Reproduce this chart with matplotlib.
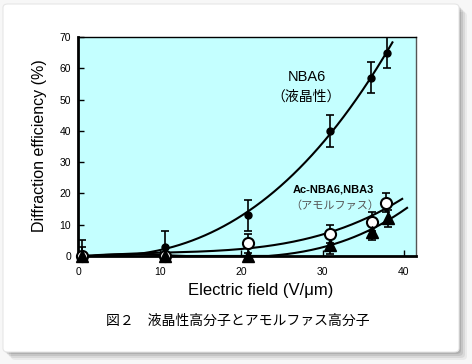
import numpy as np
import matplotlib
matplotlib.use("Agg")
import matplotlib.pyplot as plt
from matplotlib.patches import FancyBboxPatch

plt.rcParams['font.family'] = ['Liberation Sans', 'Noto Sans CJK JP', 'DejaVu Sans']

## Data
field_lc = [0.4, 10.6, 20.8, 30.9, 36.0, 37.9]       # NBA6 (liquid crystal)
eff_lc = [0.0, 3.0, 13.0, 40.0, 57.0, 65.0]
err_lc = [5.0, 5.0, 5.0, 5.0, 5.0, 5.0]

field_am1 = [0.4, 10.6, 20.8, 30.9, 36.1, 37.8]      # Ac-NBA6 (open circles)
eff_am1 = [0.0, 0.0, 4.0, 7.0, 11.0, 17.0]
err_am1 = [3.0, 0.0, 3.0, 3.0, 3.0, 3.0]

field_am2 = [0.4, 10.6, 20.8, 30.9, 36.1, 38.0]      # NBA3 (triangles)
eff_am2 = [0.0, 0.0, 0.0, 3.5, 7.8, 12.0]
err_am2 = [0.0, 0.0, 0.0, 3.0, 2.7, 2.7]

curve_end = [38.6, 39.8, 40.4]
xticks = [0, 10, 20, 30, 40]
yticks = [0, 10, 20, 30, 40, 50, 60, 70]

fig = plt.figure(figsize=(4.72, 3.64), dpi=100)
fig.patch.set_facecolor('#f7f7f7')

# card with soft shadow
for i, a in enumerate([0.05, 0.07, 0.09, 0.11]):
    off = 8 - i * 2
    fig.patches.append(FancyBboxPatch(
        ((3 + off) / 472, 1 - (352 + off) / 364), 456 / 472, 348 / 364,
        boxstyle='round,pad=0,rounding_size=0.01', transform=fig.transFigure,
        facecolor='black', edgecolor='none', alpha=a, zorder=0))
fig.patches.append(FancyBboxPatch(
    (3 / 472, 1 - 352 / 364), 456 / 472, 348 / 364,
    boxstyle='round,pad=0,rounding_size=0.01', transform=fig.transFigure,
    facecolor='white', edgecolor='#e6e6e6', lw=0.8, zorder=1))

ax = fig.add_axes([78 / 472, 1 - 256 / 364, 338 / 472, 219 / 364])
ax.set_zorder(2)
ax.set_facecolor('#c4ffff')

# fitted trend curves
for xs, ys, xend in [(field_lc, eff_lc, curve_end[0]),
                     (field_am1, eff_am1, curve_end[1]),
                     (field_am2, eff_am2, curve_end[2])]:
    coef = np.polyfit(xs, ys, 3)
    xx = np.linspace(0, xend, 200)
    yy = np.clip(np.polyval(coef, xx), 0, None)
    ax.plot(xx, yy, color='black', lw=1.5, zorder=3)

# error bars (clipped at the axes), markers drawn on top unclipped
eb = dict(fmt='none', ecolor='black', capsize=3, elinewidth=1.2, capthick=1.2)
ax.errorbar(field_lc, eff_lc, yerr=err_lc, zorder=4, **eb)
ax.errorbar(field_am1, eff_am1, yerr=err_am1, zorder=5, **eb)
ax.errorbar(field_am2, eff_am2, yerr=err_am2, zorder=6, **eb)

ax.plot(field_lc, eff_lc, 'o', color='black', ms=5, zorder=7, clip_on=False)
ax.plot(field_am1, eff_am1, 'o', mfc='white', mec='black', mew=1.5, ms=8,
        zorder=8, clip_on=False)
ax.plot(field_am2, eff_am2, '^', color='black', ms=8, zorder=9, clip_on=False)

ax.set_xlim(-0.1, 41.5)
ax.set_ylim(0, 70)
ax.set_xticks(xticks)
ax.set_yticks(yticks)
ax.tick_params(direction='in', length=4, width=1, labelsize=7.5)
ax.tick_params(axis='x', pad=8)
ax.tick_params(axis='y', pad=5)
for s in ['left', 'bottom']:
    ax.spines[s].set_linewidth(2)
ax.spines['top'].set_linewidth(1)
ax.spines['right'].set_linewidth(1)
ax.spines['right'].set_color('#555555')

ax.text(28.1, 57.2, 'NBA6', fontsize=10.5, ha='center', va='center')
ax.text(28.0, 50.8, '（液晶性）', fontsize=10, ha='center', va='center',
        family=['Noto Sans CJK JP'])
ax.text(31.3, 21.4, 'Ac-NBA6,NBA3', fontsize=8, ha='center', va='center',
        fontweight='bold')
ax.text(31.5, 16.2, '（アモルファス）', fontsize=8, ha='center', va='center',
        color='#555555', family=['Noto Sans CJK JP'])

fig.text(40 / 472, 1 - 146 / 364, 'Diffraction efficiency (%)', rotation=90,
         fontsize=11.5, ha='center', va='center', zorder=3)
fig.text(261 / 472, 1 - 290 / 364, 'Electric field (V/μm)', fontsize=12,
         ha='center', va='center', zorder=3)
fig.text(238 / 472, 1 - 321 / 364, '図２　液晶性高分子とアモルファス高分子',
         fontsize=10, ha='center', va='center', zorder=3,
         family=['Noto Sans CJK JP'])

fig.savefig('out.png', dpi=100, facecolor=fig.get_facecolor())
